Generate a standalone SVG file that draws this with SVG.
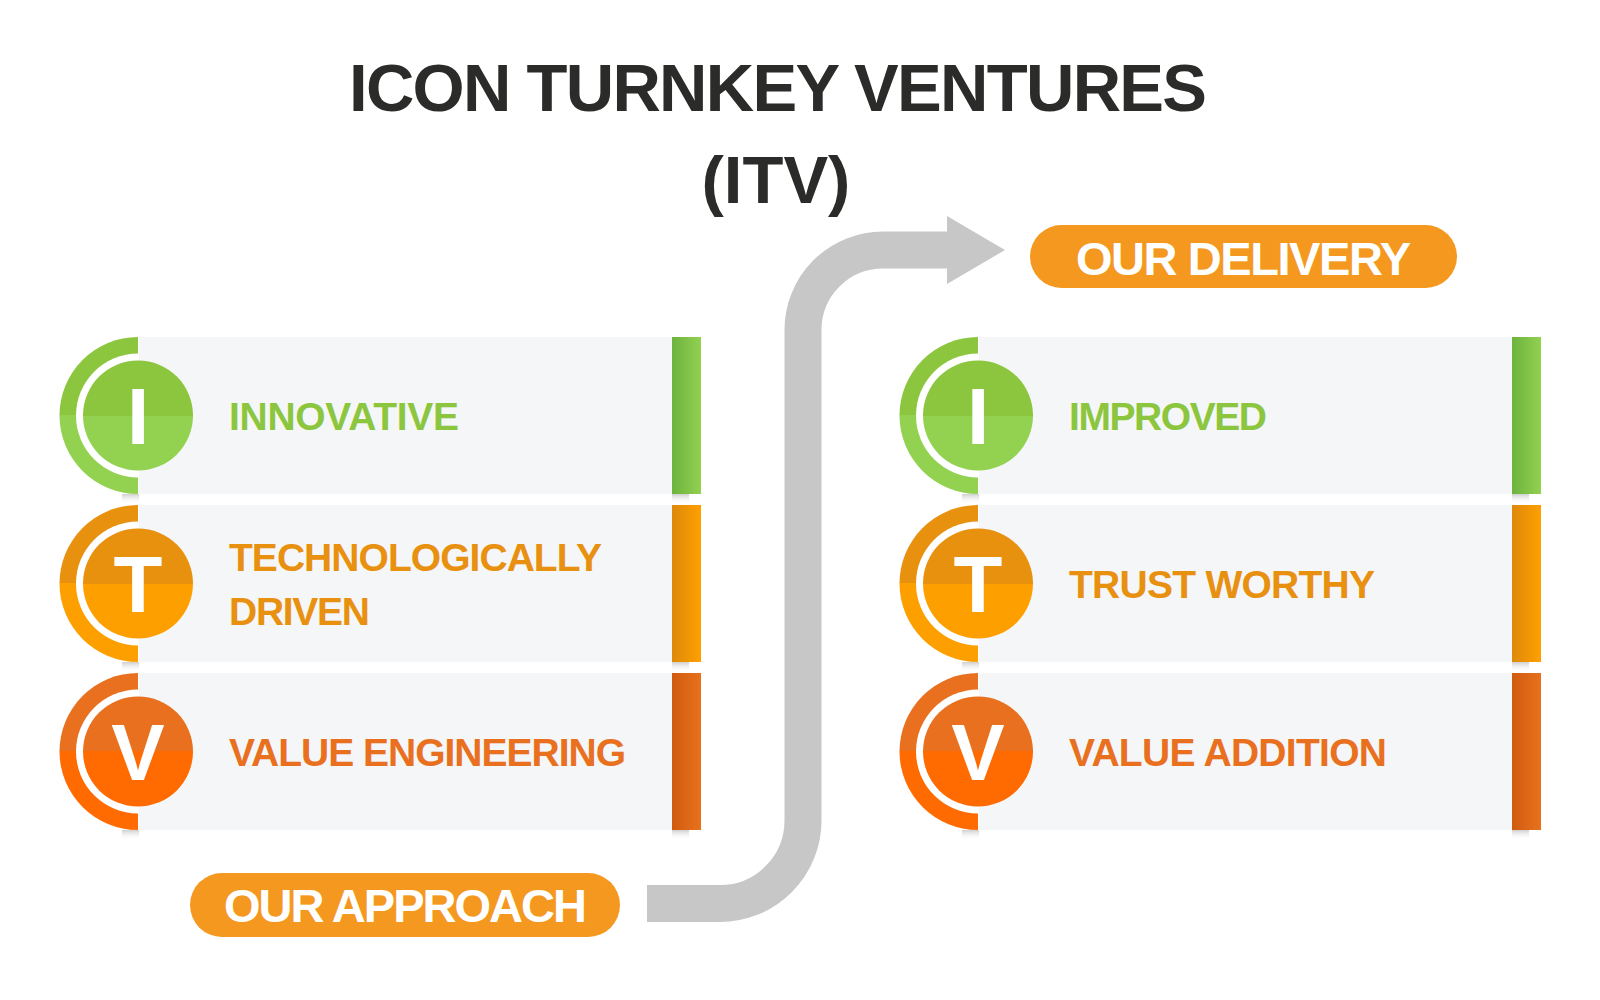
<svg xmlns="http://www.w3.org/2000/svg" width="1600" height="1000" viewBox="0 0 1600 1000">
<defs>
<style>
.title{font-family:"Liberation Sans",Arial,sans-serif;font-weight:700;font-size:67px;fill:#2b2b2a;text-anchor:middle}
.pilltxt{font-family:"Liberation Sans",Arial,sans-serif;font-weight:700;font-size:47px;fill:#ffffff}
.letter{font-family:"Liberation Sans",Arial,sans-serif;font-weight:700;font-size:80px;fill:#ffffff;text-anchor:middle}
.label{font-family:"Liberation Sans",Arial,sans-serif;font-weight:700;font-size:39px}
.card{fill:#f5f6f8}
.pill{fill:#f4981f}
.arrow{fill:none;stroke:#c6c7c6;stroke-width:37}
</style>
<linearGradient id="gGreen" x1="0" y1="0" x2="0" y2="1"><stop offset="0.5" stop-color="#8cc63f"/><stop offset="0.5" stop-color="#93d150"/></linearGradient>
<linearGradient id="gOrange" x1="0" y1="0" x2="0" y2="1"><stop offset="0.5" stop-color="#e8910e"/><stop offset="0.5" stop-color="#fe9f00"/></linearGradient>
<linearGradient id="gRed" x1="0" y1="0" x2="0" y2="1"><stop offset="0.5" stop-color="#e8701e"/><stop offset="0.5" stop-color="#ff6b00"/></linearGradient>
<linearGradient id="bGreen" x1="0" y1="0" x2="1" y2="0"><stop offset="0" stop-color="#6db33f"/><stop offset="1" stop-color="#92d050"/></linearGradient>
<linearGradient id="bOrange" x1="0" y1="0" x2="1" y2="0"><stop offset="0" stop-color="#dd890b"/><stop offset="1" stop-color="#ffa000"/></linearGradient>
<linearGradient id="bRed" x1="0" y1="0" x2="1" y2="0"><stop offset="0" stop-color="#cf5b0f"/><stop offset="1" stop-color="#e8711d"/></linearGradient>
<linearGradient id="shadow" x1="0" y1="0" x2="0" y2="1"><stop offset="0" stop-color="#cfcfcf"/><stop offset="1" stop-color="#ffffff" stop-opacity="0"/></linearGradient>
<path id="outerHalf" d="M0 -78.5 A78.5 78.5 0 0 0 0 78.5 Z"/>
<path id="whiteHalf" d="M0 -62 A62 62 0 0 0 0 62 Z"/>
<g id="cardBase">
<rect x="-16" y="78.5" width="17" height="10" fill="url(#shadow)"/>
<rect x="534" y="78.5" width="17" height="10" fill="url(#shadow)"/>
<rect class="card" x="1" y="-78.5" width="533" height="157"/>
<use href="#whiteHalf" fill="#ffffff"/>
</g>
</defs>
<rect width="1600" height="1000" fill="#ffffff"/>

<g id="title">
<text class="title" x="778" y="111" textLength="858">ICON TURNKEY VENTURES</text>
<text class="title" x="776" y="203">(ITV)</text>
</g>

<g id="connectors">
<path class="arrow" d="M647 903.5 H720 A83 83 0 0 0 803 820.5 V330 A80 80 0 0 1 883 250 H948"/>
<polygon points="947,216 1005,250 947,284" fill="#c6c7c6"/>
</g>

<g id="our-delivery">
<rect class="pill" x="1030" y="225" width="427" height="63" rx="31.5"/>
<text class="pilltxt" x="1076" y="275" font-size="46" textLength="335">OUR DELIVERY</text>
</g>

<g id="our-approach">
<rect class="pill" x="190" y="873" width="430" height="64" rx="32"/>
<text class="pilltxt" x="224" y="922" textLength="363">OUR APPROACH</text>
</g>

<g id="approach-innovative" transform="translate(138,415.5)">
<use href="#outerHalf" fill="url(#gGreen)"/>
<use href="#cardBase"/>
<rect x="534" y="-78.5" width="29" height="157" fill="url(#bGreen)"/>
<circle r="55" fill="url(#gGreen)"/>
<text class="letter" x="0" y="28.5">I</text>
<text class="label" x="91" y="14.5" fill="#8cc63f" textLength="230">INNOVATIVE</text>
</g>

<g id="approach-technologically-driven" transform="translate(138,583.5)">
<use href="#outerHalf" fill="url(#gOrange)"/>
<use href="#cardBase"/>
<rect x="534" y="-78.5" width="29" height="157" fill="url(#bOrange)"/>
<circle r="55" fill="url(#gOrange)"/>
<text class="letter" x="0" y="28.5">T</text>
<text class="label" x="91" y="-12.5" fill="#e8900f" textLength="373">TECHNOLOGICALLY</text>
<text class="label" x="91" y="41.5" fill="#e8900f" textLength="141">DRIVEN</text>
</g>

<g id="approach-value-engineering" transform="translate(138,751.5)">
<use href="#outerHalf" fill="url(#gRed)"/>
<use href="#cardBase"/>
<rect x="534" y="-78.5" width="29" height="157" fill="url(#bRed)"/>
<circle r="55" fill="url(#gRed)"/>
<text class="letter" x="0" y="28.5">V</text>
<text class="label" x="91" y="14.5" fill="#e8701e" textLength="397">VALUE ENGINEERING</text>
</g>

<g id="delivery-improved" transform="translate(978,415.5)">
<use href="#outerHalf" fill="url(#gGreen)"/>
<use href="#cardBase"/>
<rect x="534" y="-78.5" width="29" height="157" fill="url(#bGreen)"/>
<circle r="55" fill="url(#gGreen)"/>
<text class="letter" x="0" y="28.5">I</text>
<text class="label" x="91" y="14.5" fill="#8cc63f" textLength="198">IMPROVED</text>
</g>

<g id="delivery-trust-worthy" transform="translate(978,583.5)">
<use href="#outerHalf" fill="url(#gOrange)"/>
<use href="#cardBase"/>
<rect x="534" y="-78.5" width="29" height="157" fill="url(#bOrange)"/>
<circle r="55" fill="url(#gOrange)"/>
<text class="letter" x="0" y="28.5">T</text>
<text class="label" x="91" y="14.5" fill="#e8900f" textLength="306">TRUST WORTHY</text>
</g>

<g id="delivery-value-addition" transform="translate(978,751.5)">
<use href="#outerHalf" fill="url(#gRed)"/>
<use href="#cardBase"/>
<rect x="534" y="-78.5" width="29" height="157" fill="url(#bRed)"/>
<circle r="55" fill="url(#gRed)"/>
<text class="letter" x="0" y="28.5">V</text>
<text class="label" x="91" y="14.5" fill="#e8701e" textLength="318">VALUE ADDITION</text>
</g>
</svg>
